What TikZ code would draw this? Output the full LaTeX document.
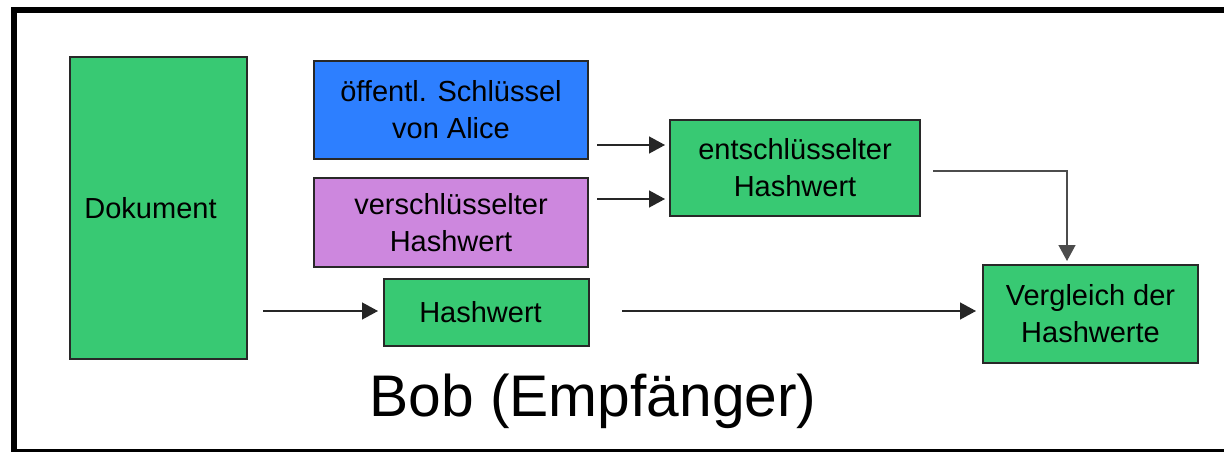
\documentclass[tikz,border=0pt]{standalone}
\usepackage{fontspec}
\setmainfont{Liberation Sans}
\usetikzlibrary{arrows.meta,calc}

\definecolor{boxgreen}{RGB}{56,201,115}
\definecolor{boxblue}{RGB}{45,127,255}
\definecolor{boxviolet}{RGB}{205,135,222}
\definecolor{edgegray}{RGB}{40,40,40}

\tikzset{
  box/.style={draw=edgegray, line width=1.3pt, inner sep=0pt, outer sep=0pt,
    anchor=north west, align=center, font=\fontsize{29}{37}\selectfont},
  conn/.style={draw=black!85, line width=1.4pt,
    -{Triangle[length=16pt,width=17pt]}},
}

\begin{document}
\begin{tikzpicture}[x=1pt,y=-1pt]
  \useasboundingbox (0,0) rectangle (1224,452);
  \clip (0,0) rectangle (1224,452);

  % outer frame
  \draw[line width=5.5pt] (14,10) rectangle (1240,452);

  % boxes
  \node[box, fill=boxgreen, minimum width=177pt, minimum height=302pt]
    (doc) at (70,57) {Dokument\hspace*{16pt}};
  \node[box, fill=boxblue, minimum width=274pt, minimum height=98pt]
    (alice) at (314,61) {öffentl. Schlüssel\\von Alice};
  \node[box, fill=boxviolet, minimum width=274pt, minimum height=89pt]
    (enc) at (314,178) {verschlüsselter\\Hashwert};
  \node[box, fill=boxgreen, minimum width=250pt, minimum height=96pt]
    (dec) at (670,120) {entschlüsselter\\Hashwert};
  \node[box, fill=boxgreen, minimum width=205pt, minimum height=67pt]
    (hash) at (384,279) {Hashwert\hspace*{12pt}};
  \node[box, fill=boxgreen, minimum width=215pt, minimum height=98pt]
    (cmp) at (983,265) {Vergleich der\\Hashwerte};

  % caption
  \node[anchor=base, inner sep=0pt, font=\fontsize{58.7}{70}\selectfont]
    (title) at (593,416) {Bob (Empfänger)};

  % connectors
  \draw[conn] ($(alice.south east)+(9,-14)$) -- ($(dec.west)+(-5,-23)$);
  \draw[conn] ($(enc.north east)+(9,21)$) -- ($(dec.south west)+(-5,-17)$);
  \draw[conn, draw=black!70] ($(dec.east)+(13,3)$) -| ($(cmp.north west)+(84,-4)$);
  \draw[conn] ($(doc.south east)+(16,-48)$) -- ($(hash.west)+(-6,-1.5)$);
  \draw[conn] ($(hash.east)+(33,-1.5)$) -- ($(cmp.west)+(-7,-3)$);
\end{tikzpicture}
\end{document}
